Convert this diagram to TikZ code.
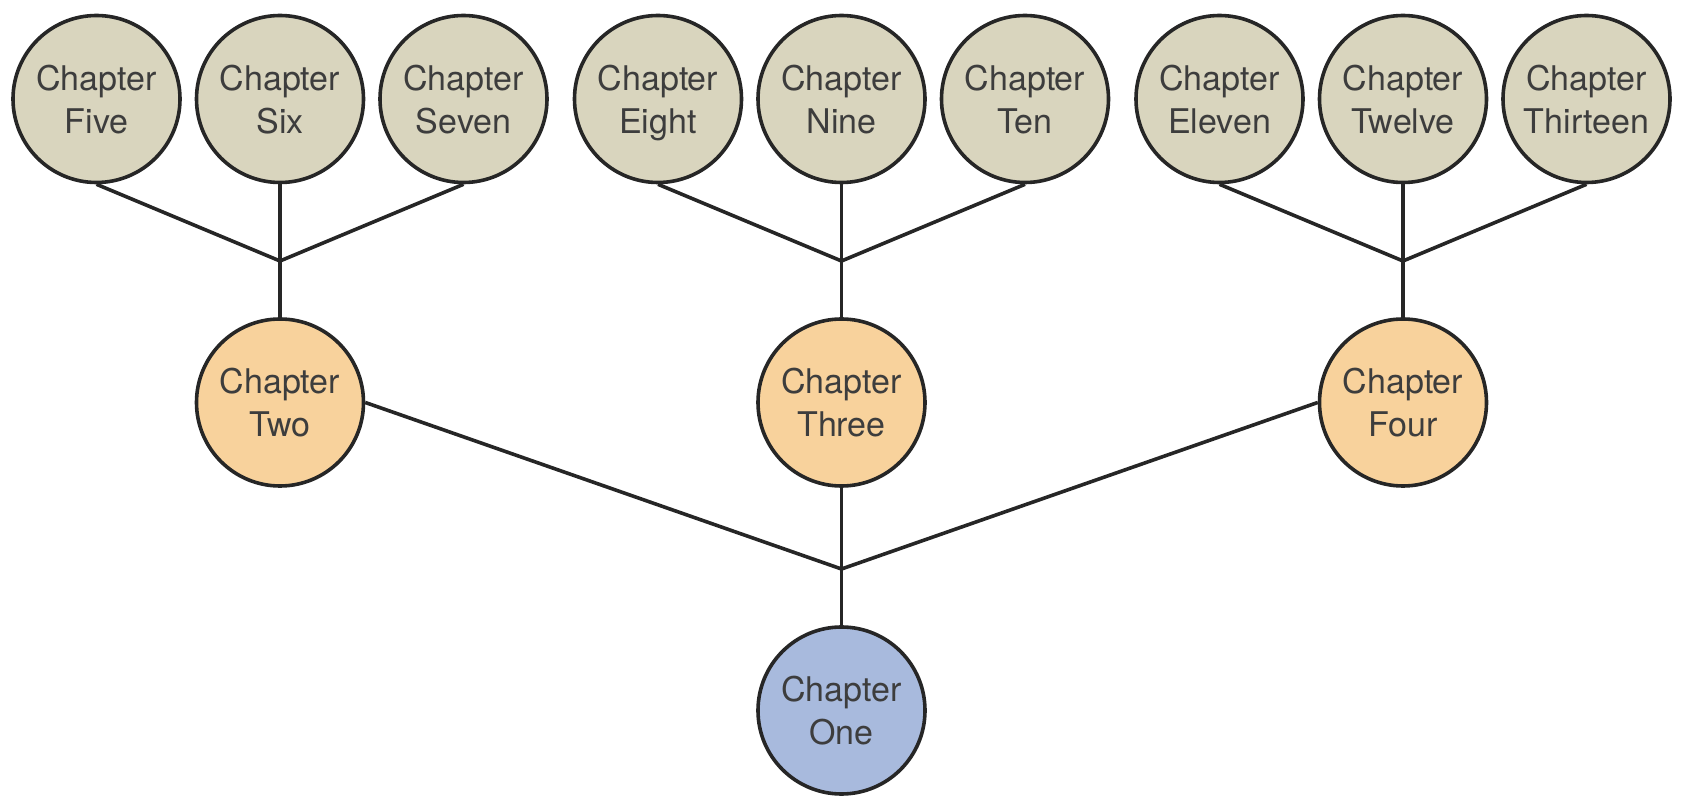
\documentclass[tikz,border=0pt]{standalone}
\usepackage{fontspec}
\setmainfont{TeX Gyre Heros}
\usepackage{tikz}
\definecolor{topfill}{HTML}{D9D5BE}
\definecolor{midfill}{HTML}{F8D29C}
\definecolor{rootfill}{HTML}{A8BADD}
\definecolor{edgecol}{HTML}{262626}
\definecolor{textcol}{HTML}{3D3D3D}
\tikzstyle{chap}=[circle, draw=edgecol, line width=1.8pt, minimum size=83.5pt, inner sep=0pt, align=center, text=textcol, font=\fontsize{17}{21.5}\selectfont, text depth=0pt]
\tikzstyle{link}=[draw=edgecol, line width=1.8pt]

\begin{document}
\begin{tikzpicture}[x=0.5pt, y=-0.5pt]
            \useasboundingbox (0,0) rectangle (1683,796);

            %%%%% Root
            \node[chap, fill=rootfill] (one) at (841.5,710.5) {Chapter\\One};
            \coordinate (j1) at (841.5,569);

            %%%%% Second level
            \node[chap, fill=midfill] (two) at (280,402.5) {Chapter\\Two};
            \node[chap, fill=midfill] (three) at (841.5,402.5) {Chapter\\Three};
            \node[chap, fill=midfill] (four) at (1403,402.5) {Chapter\\Four};
            \coordinate (j2) at (280,261);
            \coordinate (j3) at (841.5,261);
            \coordinate (j4) at (1403,261);

            %%%%% Third level
            \node[chap, fill=topfill] (five) at (96.5,99) {Chapter\\Five};
            \node[chap, fill=topfill] (six) at (280,99) {Chapter\\Six};
            \node[chap, fill=topfill] (seven) at (463.5,99) {Chapter\\Seven};
            \node[chap, fill=topfill] (eight) at (658,99) {Chapter\\Eight};
            \node[chap, fill=topfill] (nine) at (841.5,99) {Chapter\\Nine};
            \node[chap, fill=topfill] (ten) at (1025,99) {Chapter\\Ten};
            \node[chap, fill=topfill] (eleven) at (1219.5,99) {Chapter\\Eleven};
            \node[chap, fill=topfill] (twelve) at (1403,99) {Chapter\\Twelve};
            \node[chap, fill=topfill] (thirteen) at (1586.5,99) {Chapter\\Thirteen};

            %%%% Links
            \draw[link] (two.east) -- (j1) -- (four.west);
            \draw[link] (three.south) -- (j1) -- (one.north);
            \draw[link] (five.south) -- (j2) -- (seven.south);
            \draw[link] (six.south) -- (j2) -- (two.north);
            \draw[link] (eight.south) -- (j3) -- (ten.south);
            \draw[link] (nine.south) -- (j3) -- (three.north);
            \draw[link] (eleven.south) -- (j4) -- (thirteen.south);
            \draw[link] (twelve.south) -- (j4) -- (four.north);
\end{tikzpicture}
\end{document}
